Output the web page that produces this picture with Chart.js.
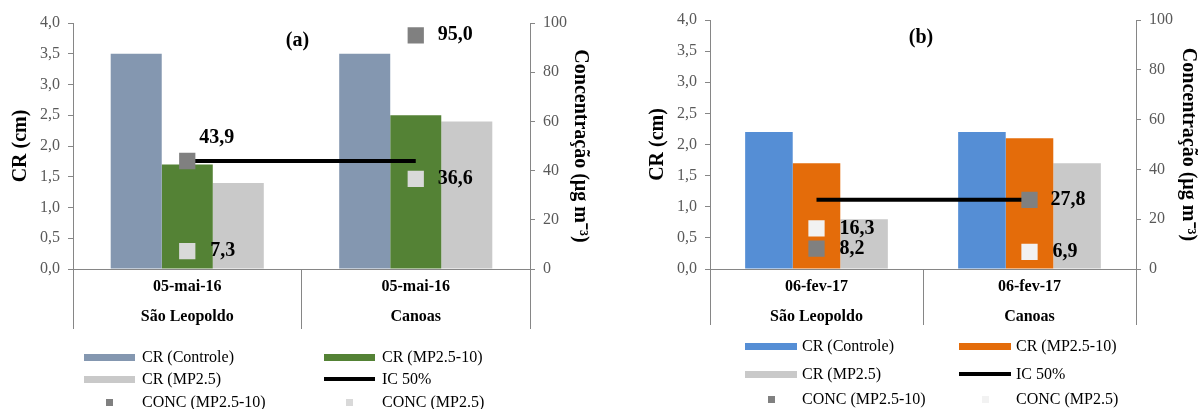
<!DOCTYPE html>
<html>
<head>
<meta charset="utf-8">
<script src="https://cdn.jsdelivr.net/npm/chart.js@4.4.1/dist/chart.umd.min.js"></script>
<style>
  html, body { margin: 0; padding: 0; background: #fff; width: 1200px; height: 409px; overflow: hidden; }
  .panel { position: absolute; top: 0; width: 600px; height: 409px; }
  .panel canvas { position: absolute; left: 0; top: 0; }
  .lg-text { position: absolute; font: 16px "Liberation Serif", "Times New Roman", serif; color: #000; white-space: nowrap; line-height: 18px; height: 18px; }
  .lg-swatch { position: absolute; }
</style>
</head>
<body>
<div class="panel" id="panelA" style="left:0"><canvas id="chartA" width="600" height="409"></canvas></div>
<div class="panel" id="panelB" style="left:600px"><canvas id="chartB" width="600" height="409"></canvas></div>
<script>
// ---- data: panel (a), 05-mai-16 ----
const sitesA = [['05-mai-16', 'São Leopoldo'], ['05-mai-16', 'Canoas']];
const crControleA = [3.5, 3.5];
const crMp2510A = [1.7, 2.5];
const crMp25A = [1.4, 2.4];
const ic50A = [43.9, 43.9];
const concMp2510A = [43.9, 95.0];
const concMp25A = [7.3, 36.6];

// ---- data: panel (b), 06-fev-17 ----
const sitesB = [['06-fev-17', 'São Leopoldo'], ['06-fev-17', 'Canoas']];
const crControleB = [2.2, 2.2];
const crMp2510B = [1.7, 2.1];
const crMp25B = [0.8, 1.7];
const ic50B = [27.8, 27.8];
const concMp2510B = [8.2, 27.8];
const concMp25B = [16.3, 6.9];

// ---- axis ranges and labels ----
const crRange = { min: 0, max: 4, step: 0.5 };
const concRange = { min: 0, max: 100, step: 20 };
const seriesNames = ['CR (Controle)', 'CR (MP2.5-10)', 'CR (MP2.5)', 'IC 50%', 'CONC (MP2.5-10)', 'CONC (MP2.5)'];
const crTitle = 'CR (cm)';
const concTitle = 'Concentração (µg m⁻³)';

const SERIF = '"Liberation Serif", "Times New Roman", serif';
const AXIS = '#868686';
const TICK = '#595959';
const CANVAS_H = 409;

function comma(v, d) { return Number(v).toFixed(d).replace('.', ','); }

// value labels beside the concentration markers
const valueLabelPlugin = {
  id: 'valueLabels',
  afterDatasetsDraw(chart) {
    const ctx = chart.ctx;
    chart.data.datasets.forEach((ds, i) => {
      if (!ds.valueLabelOffsets) return;
      const meta = chart.getDatasetMeta(i);
      ctx.save();
      ctx.font = 'bold 20px ' + SERIF;
      ctx.fillStyle = '#000';
      ctx.textAlign = 'left';
      ctx.textBaseline = 'middle';
      meta.data.forEach((pt, j) => {
        const off = ds.valueLabelOffsets[j];
        ctx.fillText(comma(ds.data[j], 1), pt.x + off[0], pt.y + off[1]);
      });
      ctx.restore();
    });
  }
};

// panel letter inside the plot area
const panelTitlePlugin = {
  id: 'panelTitle',
  afterDraw(chart, args, opts) {
    const { ctx, chartArea } = chart;
    ctx.save();
    ctx.font = 'bold 20px ' + SERIF;
    ctx.fillStyle = '#000';
    ctx.textAlign = 'center';
    ctx.textBaseline = 'middle';
    ctx.fillText(opts.text, (chartArea.left + chartArea.right) / 2 + (opts.dx || 0), chartArea.top + opts.dy);
    ctx.restore();
  }
};

function makePanel(canvasId, d, colors, L) {
  const datasets = [
    { type: 'bar', label: seriesNames[0], data: d.controle, backgroundColor: colors[0], yAxisID: 'y', order: 2 },
    { type: 'bar', label: seriesNames[1], data: d.mp2510, backgroundColor: colors[1], yAxisID: 'y', order: 2 },
    { type: 'bar', label: seriesNames[2], data: d.mp25, backgroundColor: colors[2], yAxisID: 'y', order: 2 },
    { type: 'line', label: seriesNames[3], data: d.ic50, borderColor: '#000', backgroundColor: '#000', borderWidth: 4,
      borderCapStyle: 'butt', pointRadius: 0, yAxisID: 'y1', order: 1 },
    { type: 'line', label: seriesNames[4], data: d.conc2510, showLine: false, pointStyle: 'rect', pointRadius: 11.5,
      pointHoverRadius: 11.5, pointBackgroundColor: colors[3], backgroundColor: colors[3], borderColor: colors[3],
      pointBorderWidth: 0, yAxisID: 'y1', order: 0, valueLabelOffsets: L.off2510 },
    { type: 'line', label: seriesNames[5], data: d.conc25, showLine: false, pointStyle: 'rect', pointRadius: 11.5,
      pointHoverRadius: 11.5, pointBackgroundColor: colors[4], backgroundColor: colors[4], borderColor: colors[4],
      pointBorderWidth: 0, yAxisID: 'y1', order: 0, valueLabelOffsets: L.off25 }
  ];
  datasets.forEach(ds => { if (ds.type === 'bar') { ds.categoryPercentage = 0.67; ds.barPercentage = 1.0; ds.borderWidth = 0; } });

  const chart = new Chart(document.getElementById(canvasId), {
    data: { labels: d.labels, datasets },
    plugins: [valueLabelPlugin, panelTitlePlugin],
    options: {
      responsive: false,
      maintainAspectRatio: false,
      animation: false,
      devicePixelRatio: 1,
      events: [],
      layout: { padding: { top: L.top, left: 0, right: 0, bottom: 0 } },
      plugins: {
        legend: { display: false },
        tooltip: { enabled: false },
        panelTitle: { text: L.title, dx: L.titleDx, dy: L.titleDy }
      },
      scales: {
        x: {
          type: 'category',
          offset: true,
          border: { color: AXIS, width: 1 },
          grid: { offset: true, drawOnChartArea: false, drawTicks: true, tickLength: L.divider, color: AXIS, lineWidth: 1 },
          ticks: {
            color: '#000', autoSkip: false, maxRotation: 0,
            font: { family: SERIF, size: 16, weight: 'bold', lineHeight: '30px' },
            padding: 3 - L.divider
          },
          afterFit(s) { s.height = CANVAS_H - L.bottom; }
        },
        y: {
          position: 'left', min: crRange.min, max: crRange.max,
          border: { color: AXIS, width: 1 },
          grid: { drawOnChartArea: false, drawTicks: true, tickLength: 5, color: AXIS },
          ticks: { stepSize: crRange.step, color: TICK, padding: 8, font: { family: SERIF, size: 16 },
                   callback: v => comma(v, 1) },
          title: { display: true, text: crTitle, color: '#000', font: { family: SERIF, size: 20, weight: 'bold' },
                   padding: { top: L.yTitlePad, bottom: 0 } },
          afterFit(s) { s.width = L.left; }
        },
        y1: {
          position: 'right', min: concRange.min, max: concRange.max,
          border: { color: AXIS, width: 1 },
          grid: { drawOnChartArea: false, drawTicks: true, tickLength: 5, color: AXIS },
          ticks: { stepSize: concRange.step, color: TICK, padding: 8, font: { family: SERIF, size: 16 },
                   callback: v => String(v) },
          title: { display: true, text: concTitle, color: '#000', font: { family: SERIF, size: 20, weight: 'bold' },
                   padding: { top: L.y1TitlePad, bottom: 0 } },
          afterFit(s) { s.width = 600 - L.right; }
        }
      }
    }
  });
  buildLegend(canvasId === 'chartA' ? 'panelA' : 'panelB', chart, L.legend);
  return chart;
}

// two-column legend under the plot, built from the chart's datasets
function buildLegend(panelId, chart, lg) {
  const panel = document.getElementById(panelId);
  chart.data.datasets.forEach((ds, i) => {
    const col = i % 2, row = Math.floor(i / 2);
    const sx = lg.cols[col], cy = lg.rows[row];
    const sw = document.createElement('div');
    sw.className = 'lg-swatch';
    if (ds.type === 'bar') {
      Object.assign(sw.style, { left: sx + 'px', top: (cy - 3.5) + 'px', width: lg.swatchW + 'px', height: '7px', background: ds.backgroundColor });
    } else if (ds.showLine === false) {
      const c = sx + lg.swatchW / 2;
      Object.assign(sw.style, { left: (c - 3.5) + 'px', top: (cy - 3.5) + 'px', width: '7px', height: '7px', background: ds.pointBackgroundColor });
    } else {
      Object.assign(sw.style, { left: sx + 'px', top: (cy - 2) + 'px', width: lg.swatchW + 'px', height: '4px', background: ds.borderColor });
    }
    panel.appendChild(sw);
    const tx = document.createElement('div');
    tx.className = 'lg-text';
    tx.textContent = ds.label;
    Object.assign(tx.style, { left: (sx + lg.textGap) + 'px', top: (cy - 9) + 'px' });
    panel.appendChild(tx);
  });
}

makePanel('chartA',
  { labels: sitesA, controle: crControleA, mp2510: crMp2510A, mp25: crMp25A, ic50: ic50A, conc2510: concMp2510A, conc25: concMp25A },
  ['#8497B0', '#548235', '#C9C9C9', '#808080', '#D9D9D9'],
  { left: 73, right: 530, top: 23, bottom: 269, divider: 60, yTitlePad: 9, y1TitlePad: 8,
    title: '(a)', titleDx: -4, titleDy: 18,
    off2510: [[12, -23], [22, 0]], off25: [[23, 0], [22, 0]],
    legend: { cols: [84, 324], rows: [357, 379, 402], swatchW: 51, textGap: 58 } });

makePanel('chartB',
  { labels: sitesB, controle: crControleB, mp2510: crMp2510B, mp25: crMp25B, ic50: ic50B, conc2510: concMp2510B, conc25: concMp25B },
  ['#558ED5', '#E46C0A', '#C9C9C9', '#808080', '#F2F2F2'],
  { left: 110, right: 536, top: 20, bottom: 269, divider: 56, yTitlePad: 46, y1TitlePad: 0,
    title: '(b)', titleDx: -2, titleDy: 18,
    off2510: [[23, 0], [21, 0]], off25: [[23, 0], [23, 0]],
    legend: { cols: [745 - 600, 959 - 600], rows: [346, 374, 399], swatchW: 52, textGap: 57 } });
</script>
</body>
</html>
